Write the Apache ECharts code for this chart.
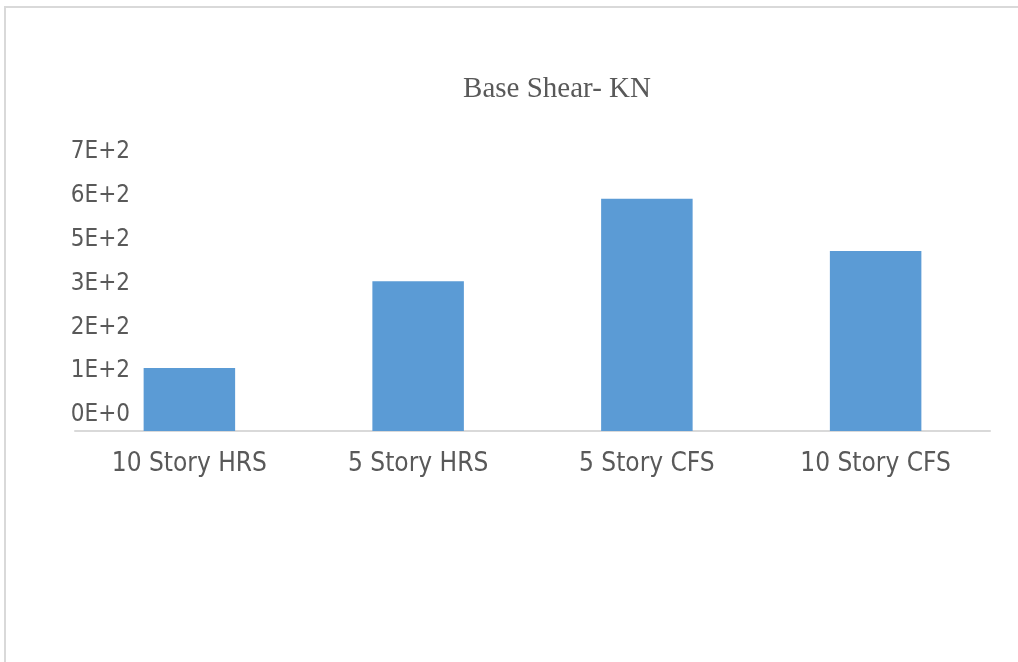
<!DOCTYPE html>
<html>
<head>
<meta charset="utf-8">
<script src="https://cdn.jsdelivr.net/npm/echarts@6/dist/echarts.min.js"></script>
<style>
html,body{margin:0;padding:0;background:#fff;}
#chart{width:1018px;height:662px;}
</style>
</head>
<body>
<div id="chart"></div>
<script>
var titleText = 'Base Shear- KN';
var categories = ['10 Story HRS', '5 Story HRS', '5 Story CFS', '10 Story CFS'];
var baseShear = [165, 393, 609, 472];
var yMin = 0, yMax = 690, yInterval = 115;

var sansFont = "'Liberation Sans Narrow','DejaVu Sans Condensed','Open Sans',sans-serif";

var chart = echarts.init(document.getElementById('chart'));
chart.setOption({
  animation: false,
  backgroundColor: '#ffffff',
  graphic: [{
    type: 'rect',
    shape: {x: 5, y: 7, width: 1200, height: 800},
    style: {fill: 'none', stroke: '#d9d9d9', lineWidth: 2},
    silent: true
  }],
  title: {
    text: titleText,
    left: 552,
    top: 70,
    textAlign: 'center',
    textStyle: {fontFamily: 'Liberation Serif', fontSize: 29, fontWeight: 'normal', color: '#595959'}
  },
  grid: {left: 75, right: 28, top: 168, bottom: 231, containLabel: false},
  xAxis: {
    type: 'category',
    data: categories,
    axisLine: {show: true, lineStyle: {color: '#d9d9d9', width: 2}},
    axisTick: {show: false},
    axisLabel: {margin: 20, fontFamily: sansFont, fontSize: 26, color: '#595959'}
  },
  yAxis: {
    type: 'value',
    min: yMin, max: yMax, interval: yInterval,
    axisLine: {show: false},
    axisTick: {show: false},
    splitLine: {show: false},
    axisLabel: {
      fontFamily: sansFont, fontSize: 24, color: '#595959',
      margin: -55,
      verticalAlign: 'bottom',
      lineHeight: 32,
      formatter: function (v) { return v.toExponential(0).toUpperCase(); }
    }
  },
  series: [{
    type: 'bar',
    data: baseShear,
    barWidth: '40%',
    itemStyle: {color: '#5b9bd5'}
  }]
});
</script>
</body>
</html>
